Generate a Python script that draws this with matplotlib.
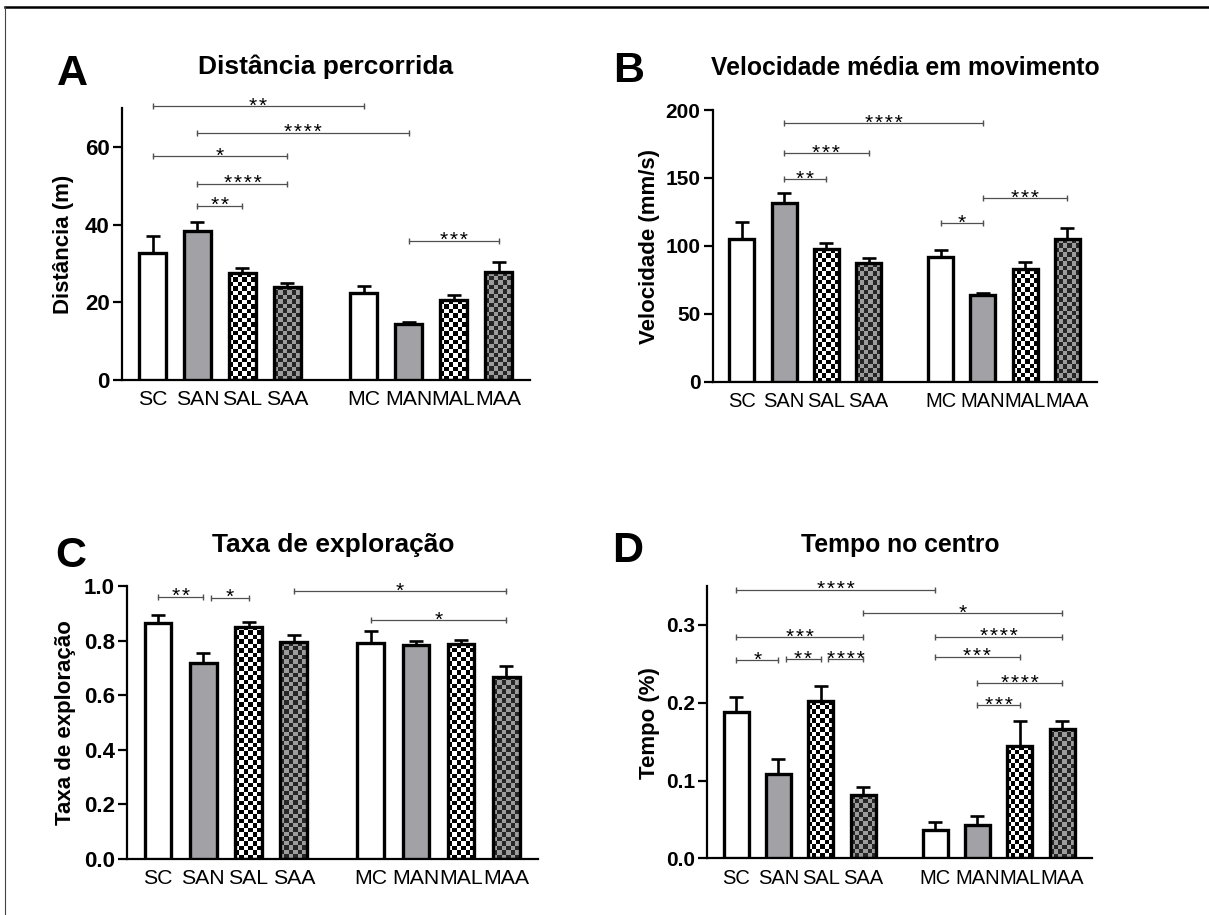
import numpy as np
import matplotlib
matplotlib.use("Agg")
import matplotlib.pyplot as plt
from matplotlib.colors import ListedColormap
from matplotlib.lines import Line2D

plt.rcParams['font.family'] = ['Liberation Sans', 'DejaVu Sans']

W, H = 1209, 915

groups = ["SC", "SAN", "SAL", "SAA", "MC", "MAN", "MAL", "MAA"]
xpos = [0, 1, 2, 3, 4.7, 5.7, 6.7, 7.7]
styles = ["white", "grey", "checker", "darkchecker"] * 2

# A - distância percorrida (m)
dist_mean = [32.8, 38.4, 27.5, 24.0, 22.3, 14.4, 20.5, 27.8]
dist_err = [4.3, 2.3, 1.2, 1.0, 1.8, 0.5, 1.5, 2.6]
dist_sig = [(0, 4, 70.4, "**"), (1, 5, 63.6, "****"), (0, 3, 57.6, "*"),
            (1, 3, 50.5, "****"), (1, 2, 44.9, "**"), (5, 7, 35.8, "***")]

# B - velocidade média (mm/s)
vel_mean = [104.8, 131.3, 97.9, 87.6, 92.0, 64.0, 82.7, 105.0]
vel_err = [13.0, 7.8, 3.9, 3.7, 4.9, 1.0, 5.6, 8.4]
vel_sig = [(1, 5, 190.2, "****"), (1, 3, 168.1, "***"), (1, 2, 149.2, "**"),
           (4, 5, 116.6, "*"), (5, 7, 135.0, "***")]

# C - taxa de exploração
tax_mean = [0.863, 0.717, 0.851, 0.796, 0.792, 0.784, 0.788, 0.668]
tax_err = [0.030, 0.036, 0.018, 0.025, 0.043, 0.015, 0.014, 0.039]
tax_sig = [(0, 1, 0.961, "**"), (1, 2, 0.957, "*"), (3, 7, 0.982, "*"),
           (4, 7, 0.875, "*")]

# D - tempo no centro (%)
tmp_mean = [0.188, 0.108, 0.202, 0.081, 0.036, 0.043, 0.144, 0.166]
tmp_err = [0.019, 0.019, 0.019, 0.011, 0.011, 0.011, 0.032, 0.011]
tmp_sig = [(0, 4, 0.345, "****"), (3, 7, 0.315, "*"), (0, 3, 0.284, "***"),
           (4, 7, 0.285, "****"), (0, 1, 0.255, "*"), (1, 2, 0.256, "**"),
           (2, 3, 0.256, "****"), (4, 6, 0.259, "***"), (5, 7, 0.225, "****"),
           (5, 6, 0.197, "***")]

GREY = "#a2a2a6"
CHECK = {"checker": ["white", "black"], "darkchecker": ["#9c9c9c", "#262626"]}
BAR_W = 0.59
CELL = 4.5


def px_box(l, t, r, b):
    return [l / W, 1 - b / H, (r - l) / W, (b - t) / H]


def checker(ax, x, h):
    p0 = ax.transData.transform((x - BAR_W / 2, 0))
    p1 = ax.transData.transform((x + BAR_W / 2, h))
    nx = max(1, int(round((p1[0] - p0[0]) / CELL)))
    ny = max(1, int(round((p1[1] - p0[1]) / CELL)))
    return np.add.outer(np.arange(ny), np.arange(nx)) % 2


def panel(fig, box, mean, err, sig, ylim, yticks, fmt, title, ylabel,
          letter, title_xy, letter_xy, ylabel_xy, fs):
    ax = fig.add_axes(px_box(*box))
    ax.set_xlim(-0.68, 8.4)
    ax.set_ylim(*ylim)

    faces = ["white" if s == "white" else GREY if s == "grey" else "none"
             for s in styles]
    ax.bar(xpos, mean, BAR_W, color=faces, edgecolor="black",
           linewidth=2.4, zorder=3)
    for x, h, s in zip(xpos, mean, styles):
        if s in CHECK:
            img = checker(ax, x, h)
            ax.imshow(img, cmap=ListedColormap(CHECK[s]), origin="lower",
                      extent=(x - BAR_W / 2, x + BAR_W / 2, 0, h),
                      aspect="auto", interpolation="nearest", zorder=2)
    ax.errorbar(xpos, mean, yerr=[np.zeros(len(err)), err], fmt="none",
                ecolor="black", elinewidth=1.9, capsize=5, capthick=1.9,
                zorder=4)

    # significance brackets
    span = ylim[1] - ylim[0]
    for i, j, y, lab in sig:
        x0, x1 = xpos[i], xpos[j]
        if any(jj == i and abs(yy - y) < 0.03 * span for ii, jj, yy, _ in sig):
            x0 += 0.17
        ax.plot([x0, x1], [y, y], color="#505050", lw=0.9, marker="|",
                markersize=5, mew=1.0, clip_on=False, zorder=5)
        ax.annotate("\u200a".join(lab), ((x0 + x1) / 2, y), xytext=(0, -4),
                    textcoords="offset points", ha="center", va="baseline",
                    fontsize=15, annotation_clip=False)

    for s in ["top", "right"]:
        ax.spines[s].set_visible(False)
    for s in ["left", "bottom"]:
        ax.spines[s].set_linewidth(1.6)
    ax.set_yticks(yticks)
    ax.set_yticklabels([fmt.format(v) for v in yticks], fontsize=fs[0],
                       fontweight="bold")
    ax.tick_params(axis="y", length=6.5, width=1.6, pad=2.5)
    ax.set_xticks(xpos)
    ax.set_xticklabels(groups, fontsize=fs[1])
    ax.tick_params(axis="x", length=0, pad=7.5)

    fig.text(title_xy[0] / W, 1 - title_xy[1] / H, title, ha="center",
             va="baseline", fontsize=fs[2], fontweight="bold")
    fig.text(letter_xy[0] / W, 1 - letter_xy[1] / H, letter, ha="left",
             va="baseline", fontsize=31, fontweight="bold")
    fig.text(ylabel_xy[0] / W, 1 - ylabel_xy[1] / H, ylabel, ha="center",
             va="center", rotation=90, fontsize=16, fontweight="bold")
    return ax


LEFT_FS = (16, 15.3, 19)
RIGHT_FS = (15, 14.5, 17.8)

fig = plt.figure(figsize=(W / 100, H / 100), dpi=100)

panel(fig, (122, 108, 530, 380), dist_mean, dist_err, dist_sig, (0, 70),
      [0, 20, 40, 60], "{:.0f}", "Distância percorrida", "Distância (m)",
      "A", (326, 74), (57, 85), (64, 244), LEFT_FS)
panel(fig, (713, 110, 1097, 381.7), vel_mean, vel_err, vel_sig, (0, 200),
      [0, 50, 100, 150, 200], "{:.0f}", "Velocidade média em movimento",
      "Velocidade (mm/s)", "B", (905, 75), (613, 82), (650, 246), RIGHT_FS)
panel(fig, (127.3, 586, 538, 859), tax_mean, tax_err, tax_sig, (0, 1.0),
      [0, 0.2, 0.4, 0.6, 0.8, 1.0], "{:.1f}", "Taxa de exploração",
      "Taxa de exploração", "C", (333, 552), (55, 567), (65, 723), LEFT_FS)
panel(fig, (707.3, 586, 1091.7, 858.3), tmp_mean, tmp_err, tmp_sig,
      (0, 0.35), [0.0, 0.1, 0.2, 0.3], "{:.1f}", "Tempo no centro",
      "Tempo (%)", "D", (900, 552), (612, 562), (650, 723), RIGHT_FS)

# outer frame (top and left only)
fig.add_artist(Line2D([5 / W, 1], [1 - 7 / H, 1 - 7 / H], color="black",
                      lw=1.8))
fig.add_artist(Line2D([5 / W, 5 / W], [0, 1 - 7 / H], color="#444444",
                      lw=0.8))

fig.savefig("out.png", dpi=100)
